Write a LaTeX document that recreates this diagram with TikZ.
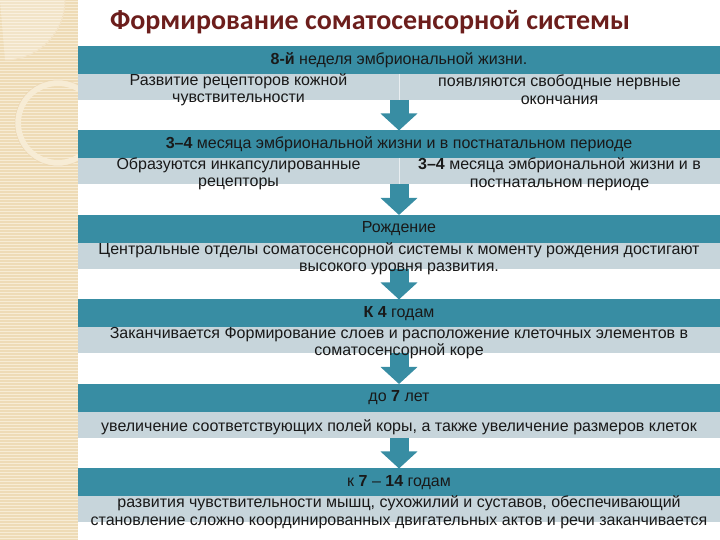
\documentclass[tikz,border=0pt]{standalone}
\usepackage{fontspec}
\setmainfont{Liberation Sans}
\newfontfamily\titlefont{Carlito}
\usepackage{xcolor}
\usetikzlibrary{positioning,calc,arrows.meta}

\definecolor{headteal}{RGB}{56,141,163}
\definecolor{bandgray}{RGB}{199,213,219}
\definecolor{titlered}{RGB}{108,30,28}
\definecolor{stripbeige}{RGB}{238,219,182}
\definecolor{stripline}{RGB}{247,236,213}
\newcommand{\rowfont}{\fontsize{16}{17.5}\selectfont}

\begin{document}
\begin{tikzpicture}[
    x=1pt, y=1pt,
    head/.style={fill=headteal, minimum width=642pt, minimum height=28pt,
                 inner sep=0pt, outer sep=0pt, font=\rowfont, text=black!90},
    band/.style={fill=bandgray, minimum width=642pt, minimum height=26pt,
                 inner sep=0pt, outer sep=0pt},
    bodytext/.style={align=center, font=\rowfont, inner sep=0pt, text=black!90,
                     yshift=-2.5pt},
    divider/.style={draw=white!60!bandgray, line width=1pt},
    flow/.style={draw=headteal, line width=19pt,
                 -{Triangle[length=17pt, width=36pt]}},
  ]
  \useasboundingbox (0,0) rectangle (720,540);

  % Left strip
  \fill[stripbeige] (0,0) rectangle (78,540);
  \foreach \y in {1,4,...,538} \draw[stripline, line width=1pt] (0,\y) -- (78,\y);
  \begin{scope}
    \clip (0,0) rectangle (78,540);
    \fill[white, opacity=0.25] (0,540) -- (65,540) arc[start angle=0, end angle=-90, radius=60] -- cycle;
    \draw[stripline!50!stripbeige, line width=1pt] (65,540) arc[start angle=0, end angle=-90, radius=60];
    \draw[stripline, line width=6pt] (58,417) circle (40);
    \draw[stripbeige!80!brown, line width=0.5pt, opacity=0.5] (58,417) circle (43);
  \end{scope}

  % Title
  \node[font=\titlefont\bfseries\fontsize{28}{30}\selectfont, text=titlered]
    (title) at (370,518) {Формирование соматосенсорной системы};

  % Rows
  \node[head, anchor=north west] (h1) at (78,494) {\textbf{8-й} неделя эмбриональной жизни.};
  \node[band, below=0pt of h1] (b1) {};
  \node[head, below=30.5pt of b1] (h2) {\textbf{3–4} месяца эмбриональной жизни и в постнатальном периоде};
  \node[band, below=0pt of h2] (b2) {};
  \node[head, below=30.5pt of b2] (h3) {Рождение};
  \node[band, below=0pt of h3] (b3) {};
  \node[head, below=30.5pt of b3] (h4) {\textbf{К 4} годам};
  \node[band, below=0pt of h4] (b4) {};
  \node[head, below=30.5pt of b4] (h5) {до \textbf{7} лет};
  \node[band, below=0pt of h5] (b5) {};
  \node[head, below=30.5pt of b5] (h6) {к \textbf{7} – \textbf{14} годам};
  \node[band, below=0pt of h6] (b6) {};

  % Column dividers
  \draw[divider] (b1.north) -- (b1.south);
  \draw[divider] (b2.north) -- (b2.south);

  % Arrows
  \foreach \a/\b in {b1/h2, b2/h3, b3/h4, b4/h5, b5/h6}
    \draw[flow] (\a) -- (\b);

  % Band texts
  \node[bodytext] (t1a) at ($(b1.west)!0.25!(b1.east)$) {Развитие рецепторов кожной\\чувствительности};
  \node[bodytext] (t1b) at ($(b1.west)!0.75!(b1.east)$) {появляются свободные нервные\\окончания};
  \node[bodytext] (t2a) at ($(b2.west)!0.25!(b2.east)$) {Образуются инкапсулированные\\рецепторы};
  \node[bodytext] (t2b) at ($(b2.west)!0.75!(b2.east)$) {\textbf{3–4} месяца эмбриональной жизни и в\\постнатальном периоде};
  \node[bodytext] (t3) at (b3) {Центральные отделы соматосенсорной системы к моменту рождения достигают\\высокого уровня развития.};
  \node[bodytext] (t4) at (b4) {Заканчивается Формирование слоев и расположение клеточных элементов в\\соматосенсорной коре};
  \node[bodytext] (t5) at (b5) {увеличение соответствующих полей коры, а также увеличение размеров клеток};
  \node[bodytext] (t6) at (b6) {развития чувствительности мышц, сухожилий и суставов, обеспечивающий\\становление сложно координированных двигательных актов и речи заканчивается};

\end{tikzpicture}
\end{document}
